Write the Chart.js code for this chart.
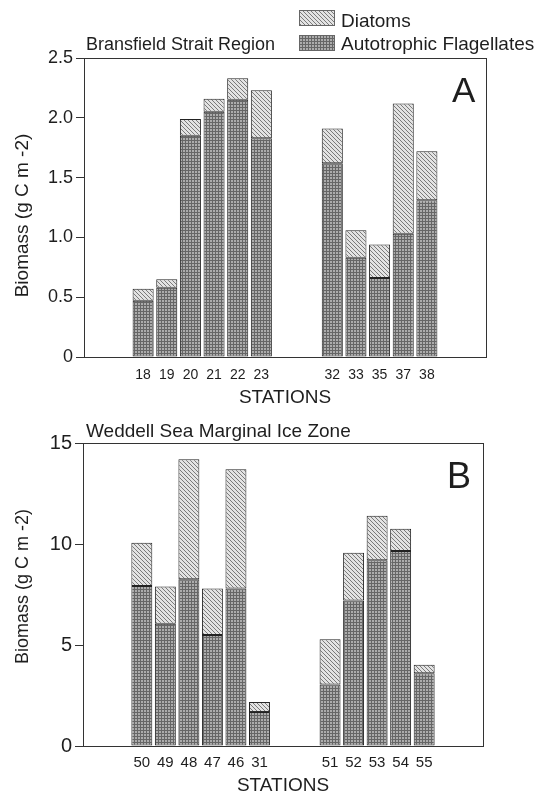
<!DOCTYPE html>
<html><head><meta charset="utf-8">
<script src="https://cdn.jsdelivr.net/npm/chart.js@4"></script>
<style>html,body{margin:0;padding:0;background:#fff;} canvas{display:block;}</style>
</head><body>
<canvas id="cA" width="537" height="410"></canvas>
<canvas id="cB" width="537" height="388"></canvas>
<script>
// ---- data ----
const stationsA = ['', '', '18','19','20','21','22','23','','','32','33','35','37','38','',''];
const flagellatesA = [null,null,0.47,0.58,1.85,2.05,2.15,1.83,null,null,1.62,0.83,0.66,1.03,1.31,null,null];
const diatomsA = [null,null,0.10,0.07,0.14,0.11,0.18,0.40,null,null,0.29,0.23,0.28,1.09,0.41,null,null];
const yTicksA = ['0','0.5','1.0','1.5','2.0','2.5'];

const stationsB = ['', '', '50','49','48','47','46','31','','','51','52','53','54','55','',''];
const flagellatesB = [null,null,7.92,6.05,8.25,5.50,7.80,1.68,null,null,3.05,7.20,9.20,9.65,3.60,null,null];
const diatomsB = [null,null,2.14,1.85,5.95,2.30,5.90,0.50,null,null,2.23,2.37,2.20,1.11,0.42,null,null];
const yTicksB = ['0','5','10','15'];

const seriesNames = ['Diatoms','Autotrophic Flagellates'];
const panelTitles = ['Bransfield Strait Region','Weddell Sea Marginal Ice Zone'];
const panelLetters = ['A','B'];
const xTitle = 'STATIONS';
const yTitle = 'Biomass (g C m -2)';

// ---- styles ----
const FONT = "'Liberation Sans', Arial, Helvetica, sans-serif";
const INK = '#1e1e1e';
const LINE = '#333';

function makePattern(kind){
  const c = document.createElement('canvas');
  const g = c.getContext('2d');
  if (kind === 'diatom') {
    c.width = 4; c.height = 4;
    g.fillStyle = '#e3e3e3'; g.fillRect(0,0,4,4);
    g.fillStyle = '#7a7a7a';
    for (let i = 0; i < 4; i++) g.fillRect(i, i, 1, 1);
  } else {
    c.width = 3; c.height = 3;
    g.fillStyle = '#666'; g.fillRect(0,0,3,3);
    g.fillStyle = '#acacac'; g.fillRect(0,0,2,2);
  }
  return g.createPattern(c, 'repeat');
}
const diatomPat = makePattern('diatom');
const flagPat = makePattern('flag');

function decor(idx, o){
  return {
    id: 'decor' + idx,
    afterLayout(chart){
      // shift the library's own y-axis title vertically
      const ys = chart.scales.y;
      if (!ys._shifted) {
        ys._shifted = true;
        const base = Object.getPrototypeOf(ys).drawTitle;
        ys.drawTitle = function(){
          const ctx = this.ctx;
          ctx.save(); ctx.translate(0, o.yTitleShift);
          base.apply(this, arguments);
          ctx.restore();
        };
      }
    },
    afterDraw(chart){
      const ctx = chart.ctx, a = chart.chartArea;
      ctx.save();
      ctx.strokeStyle = LINE; ctx.lineWidth = 1;
      ctx.strokeRect(Math.round(a.left) + 0.5, Math.round(a.top) + 0.5,
                     Math.round(a.right - a.left), Math.round(a.bottom - a.top));
      ctx.fillStyle = INK; ctx.textAlign = 'left'; ctx.textBaseline = 'alphabetic';
      ctx.font = o.titleSize + 'px ' + FONT;
      ctx.fillText(panelTitles[idx], o.titleX, o.titleY);
      ctx.font = o.letterSize + 'px ' + FONT;
      ctx.fillText(panelLetters[idx], o.letterX, o.letterY);
      if (o.legend) {
        const L = o.legend;
        const pats = [diatomPat, flagPat];
        for (let i = 0; i < 2; i++) {
          const y = L.ys[i];
          ctx.fillStyle = pats[i];
          ctx.fillRect(L.x, y, L.w, L.h);
          ctx.strokeStyle = '#666';
          ctx.strokeRect(L.x + 0.5, y + 0.5, L.w - 1, L.h - 1);
          ctx.fillStyle = INK;
          ctx.font = L.size + 'px ' + FONT;
          ctx.fillText(seriesNames[i], L.tx, L.bases[i]);
        }
      }
      ctx.restore();
    }
  };
}

function makeChart(id, idx, labels, flag, diat, yTicks, cfg){
  return new Chart(document.getElementById(id), {
    type: 'bar',
    data: {
      labels: labels,
      datasets: [
        { label: seriesNames[1], data: flag, backgroundColor: flagPat, borderColor: '#222',
          borderWidth: 1, borderSkipped: false, barPercentage: 0.89, categoryPercentage: 1.0 },
        { label: seriesNames[0], data: diat, backgroundColor: diatomPat, borderColor: '#222',
          borderWidth: 1, borderSkipped: false, barPercentage: 0.89, categoryPercentage: 1.0 }
      ]
    },
    options: {
      responsive: false,
      animation: false,
      layout: { padding: { top: cfg.top, right: cfg.right, left: 0, bottom: 0 } },
      plugins: { legend: { display: false }, tooltip: { enabled: false }, title: { display: false } },
      scales: {
        x: {
          stacked: true,
          grid: { display: false, drawTicks: false },
          border: { display: true, color: LINE, width: 1 },
          ticks: { color: INK, font: { family: FONT, size: cfg.xTickSize }, padding: cfg.xTickPad,
                   maxRotation: 0, autoSkip: false },
          title: { display: true, text: xTitle, color: INK, font: { family: FONT, size: cfg.xTitleSize },
                   padding: { top: 0, bottom: cfg.xTitlePad } },
          afterFit(s){ s.height = cfg.xHeight; }
        },
        y: {
          stacked: true,
          min: 0, max: cfg.ymax,
          grid: { drawOnChartArea: false, drawTicks: true, tickLength: 8, color: LINE },
          border: { display: true, color: LINE, width: 1 },
          ticks: { stepSize: cfg.step, color: INK, font: { family: FONT, size: cfg.yTickSize }, padding: 3,
                   callback: (v, i) => yTicks[i] },
          title: { display: true, text: yTitle, color: INK, font: { family: FONT, size: cfg.yTitleSize },
                   padding: { top: cfg.yTitlePad, bottom: 0 } },
          afterFit(s){ s.width = cfg.yWidth; }
        }
      }
    },
    plugins: [decor(idx, cfg.decor)]
  });
}

makeChart('cA', 0, stationsA, flagellatesA, diatomsA, yTicksA, {
  top: 58, right: 51, ymax: 2.5, step: 0.5, yWidth: 84, xHeight: 53,
  xTickSize: 14, xTickPad: 10, xTitleSize: 19, xTitlePad: 1,
  yTickSize: 18, yTitleSize: 19, yTitlePad: 11,
  decor: { titleSize: 18, titleX: 86, titleY: 50, letterSize: 35, letterX: 452, letterY: 102, yTitleShift: 8,
           legend: { x: 299, w: 36, h: 16, ys: [10, 35], tx: 341, bases: [27, 50], size: 19 } }
});

makeChart('cB', 1, stationsB, flagellatesB, diatomsB, yTicksB, {
  top: 33, right: 54, ymax: 15, step: 5, yWidth: 83, xHeight: 52,
  xTickSize: 15, xTickPad: 8, xTitleSize: 19, xTitlePad: 1,
  yTickSize: 20, yTitleSize: 18, yTitlePad: 12,
  decor: { titleSize: 19, titleX: 86, titleY: 27, letterSize: 36, letterX: 447, letterY: 78, yTitleShift: -8 }
});
</script>
</body></html>
